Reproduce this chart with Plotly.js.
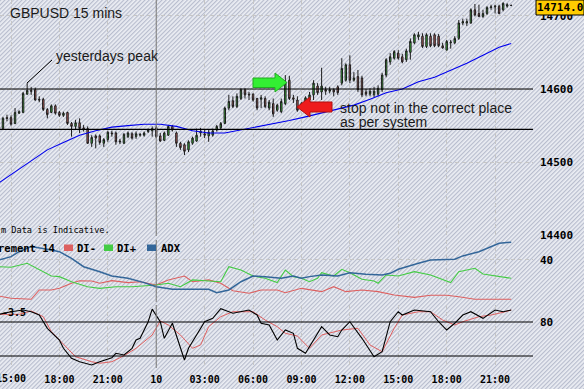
<!DOCTYPE html>
<html><head><meta charset="utf-8">
<script src="https://cdn.plot.ly/plotly-3.0.1.min.js"></script>
<style>html,body{margin:0;padding:0;background:#fff}#c{width:584px;height:389px}</style>
</head><body><div id="c"></div>
<script>
// ---------- data ----------
const firstBar = -3; // bar index of the first candle (15:00 = bar 0, 15-minute bars)
const open = [14543,14546,14561,14561,14553,14567,14568,14593,14598,14599,
 14586,14586,14572,14568,14577,14568,14564,14568,14553,14549,
 14554,14547,14546,14526,14536,14536,14526,14531,14540,14540,
 14529,14526,14535,14539,14535,14537,14537,14542,14543,14547,
 14536,14530,14537,14549,14540,14526,14524,14517,14526,14529,
 14540,14539,14536,14537,14544,14547,14553,14574,14584,14576,
 14587,14599,14593,14593,14587,14586,14587,14574,14580,14571,
 14569,14580,14612,14588,14585,14574,14580,14585,14592,14604,
 14596,14599,14597,14599,14603,14608,14612,14633,14612,14617,
 14615,14596,14593,14592,14593,14599,14619,14637,14642,14649,
 14644,14640,14650,14663,14671,14672,14658,14672,14674,14672,
 14659,14653,14663,14663,14669,14690,14690,14690,14708,14703,
 14699,14703,14711,14712,14713,14708,14713,14714];
const close = [14548,14560,14560,14552,14568,14569,14594,14598,14597,14585,
 14585,14572,14565,14577,14567,14564,14567,14553,14549,14554,
 14546,14545,14526,14534,14533,14527,14531,14541,14539,14528,
 14528,14538,14540,14533,14539,14538,14540,14544,14546,14535,
 14529,14540,14549,14544,14526,14520,14515,14528,14533,14537,
 14542,14537,14541,14543,14549,14553,14574,14583,14576,14590,
 14599,14592,14592,14585,14574,14588,14576,14582,14566,14578,
 14583,14608,14587,14586,14571,14580,14588,14592,14608,14595,
 14604,14597,14599,14596,14595,14628,14633,14612,14615,14599,
 14592,14593,14597,14597,14601,14619,14640,14644,14651,14642,
 14637,14652,14665,14674,14674,14658,14674,14659,14659,14659,
 14656,14665,14664,14669,14690,14692,14692,14708,14701,14699,
 14703,14711,14712,14713,14703,14717,14715,14714];
const high = [14552,14562,14565,14564,14574,14571,14596,14608,14603,14602,
 14590,14588,14574,14579,14579,14570,14569,14569,14555,14558,
 14560,14551,14549,14537,14538,14538,14533,14543,14543,14542,
 14532,14540,14542,14541,14542,14540,14542,14546,14549,14550,
 14540,14542,14551,14551,14542,14528,14526,14530,14535,14546,
 14547,14544,14544,14546,14551,14555,14576,14592,14590,14594,
 14601,14601,14596,14594,14588,14592,14590,14585,14587,14580,
 14587,14619,14618,14592,14590,14582,14590,14596,14612,14608,
 14629,14603,14603,14601,14605,14642,14635,14646,14623,14626,
 14618,14600,14601,14603,14605,14622,14642,14649,14653,14653,
 14648,14655,14669,14676,14678,14676,14676,14676,14676,14675,
 14663,14667,14667,14672,14694,14696,14696,14710,14716,14715,
 14708,14713,14715,14715,14715,14718,14717,14715];
const low = [14536,14544,14556,14550,14552,14566,14567,14592,14592,14584,
 14582,14570,14560,14567,14565,14562,14562,14551,14535,14544,
 14540,14542,14525,14521,14519,14524,14521,14528,14535,14524,
 14525,14525,14533,14531,14532,14535,14535,14540,14535,14533,
 14528,14529,14536,14542,14521,14517,14510,14514,14524,14528,
 14535,14533,14528,14535,14542,14545,14552,14571,14574,14574,
 14585,14587,14585,14583,14571,14574,14574,14571,14562,14569,
 14567,14578,14585,14581,14569,14570,14577,14580,14585,14592,
 14585,14592,14594,14590,14592,14605,14610,14608,14610,14596,
 14589,14590,14590,14589,14590,14596,14616,14633,14640,14640,
 14635,14637,14640,14661,14667,14656,14656,14657,14657,14657,
 14655,14653,14655,14661,14667,14687,14686,14689,14699,14698,
 14697,14701,14708,14703,14702,14706,14711,14713];

const maBars   = [-3,1,5,9,13,17,21,25,29,33,37,41,45,49,53,57,61,65,69,73,77,81,85,89,93,97,101,105,109,113,117,121,124];
const maValues = [14472,14487,14503,14517,14527,14537,14543,14548,14550,14552,14552,14549,14543,14540,14540,14544,14548,14553,14557,14562,14567,14573,14578,14586,14595,14600,14610,14616,14625,14635,14646,14657,14662];

const adxBars   = [-3,0,2,5,10,12,15,18,22,25,29,33,36,40,44,49,51,54,57,60,63,67,70,72,74,77,81,84,88,92,94,96,101,104,110,112,116,119,121,124];
const adxValues = [40,42.2,45.5,48.9,46.7,45.5,41.1,35.5,32.2,29.3,27.8,24.9,22.2,20.5,20.5,20.5,18.2,20,25.5,29.3,28.9,27.8,29.3,27.8,28.9,30,29.3,31.5,30.5,30,31.1,33.8,37.8,40,40.5,42.7,45.5,48.9,51.1,51.8];

const diPlusBars   = [-3,0,4,7,10,12,15,19,22,26,30,36,39,42,45,49,52,54,57,60,63,66,68,70,72,74,76,77,80,82,84,87,90,91,93,96,100,104,109,111,115,117,121,124];
const diPlusValues = [35.5,35.1,37.8,33.8,29.3,28.9,25.5,22.2,21.1,22.2,22.2,23.3,24.5,22.2,26.7,26,25.5,35.5,33.3,29.3,27.8,24.9,33.3,28.9,27.8,25.5,27.8,31.5,29.3,33.8,31.5,27.1,26,24.5,30,29.3,32.2,30,24.9,32.2,34.5,30.7,28.9,27.8];

const diMinusBars   = [-3,0,5,7,10,12,15,17,20,22,25,29,32,36,39,43,45,49,52,55,59,62,66,68,72,77,80,83,87,91,95,100,104,108,111,115,119,124];
const diMinusValues = [16,14.5,13.8,20,20,21.1,24.5,26.2,26,24.5,26.2,24.9,25.5,23.3,26.7,29.3,25.5,26.7,24.5,19.5,17.8,20,20,18.2,21.1,18.9,22.2,18.9,20,18.9,16.7,15.1,16.5,16.5,15.5,13.8,13.8,13.8];

const kBars   = [-3,0,3,5,7,9,12,13,15,17,20,22,25,26,28,30,31,32,34,35,37,38,40,43,44,46,48,50,52,55,59,61,62,64,66,68,70,71,73,77,79,81,82,84,87,90,92,94,96,97,100,104,106,108,110,112,114,117,120,122,124];
const kValues = [91.3,95.1,97.6,95.1,90.3,70.7,53.5,41.3,26.6,21.6,16.8,21.6,27.5,34,31.5,41.3,53.5,56,80.4,99,80.4,56,78.1,24.1,41.3,60.9,80.4,85.4,99.5,92.8,97.6,90.3,78.1,75.6,53.5,68.2,63.4,41.3,34,73.1,60.9,58.4,68.2,80.4,56,29,36.3,80.4,95.1,90.3,97.6,95.1,80.4,68.2,78.1,90.3,95.1,85.4,97.6,95.1,97.6];

const dBars   = [-3,2,5,8,10,14,16,20,22,25,28,31,35,37,39,42,45,47,49,52,55,60,63,66,68,71,74,77,80,82,86,89,92,95,97,101,104,107,110,112,116,119,122,124];
const dValues = [91.3,91.3,96.2,87.8,65.7,41.3,29,21.6,19.3,21.6,30.4,41.3,60.9,81.5,75.6,60.9,41.3,46.2,73.1,87.8,95.1,95.1,82.9,73.1,63.4,59.4,41.3,60.9,65.7,68.2,70.7,46.2,36.3,70.7,90.3,95.1,95.1,82.9,75.6,80.4,87.8,90.3,94.3,97.6];

const tickBars   = [0,12,24,36,48,60,72,84,96,108,120];
const tickLabels = ['15:00','18:00','21:00','10','03:00','06:00','09:00','12:00','15:00','18:00','21:00'];
const dayBar = 36;
const priceTicks = [14400,14500,14600,14700];
const levels = [14600, 14545];
const stochLevels = [80, 30];
const lastPrice = '14714.0';

// ---------- drawing ----------
const bars = open.map((_, k) => firstBar + k);
const W = 533, H = 368;               // plot area in pixels
const XR = [-2.73, 129.4];
const px = x => x / W, py = y => 1 - y / H;
const pathOf = pts => 'M' + pts.map(p => px(p[0]).toFixed(5) + ',' + py(p[1]).toFixed(5)).join(' L') + ' Z';

const mono = 'DejaVu Sans Mono';
const traces = [
  {type:'candlestick', x:bars, open, high, low, close, xaxis:'x', yaxis:'y', hoverinfo:'skip',
   increasing:{line:{color:'#1c1c1c', width:1}, fillcolor:'#3fcc3f'},
   decreasing:{line:{color:'#1c1c1c', width:1}, fillcolor:'#d06868'}, whiskerwidth:0},
  {type:'scatter', mode:'lines', x:maBars, y:maValues, yaxis:'y', line:{color:'#0000ee', width:1.1}, hoverinfo:'skip'},
  {type:'scatter', mode:'lines', x:diMinusBars, y:diMinusValues, yaxis:'y2', line:{color:'#dd6060', width:1.1}, hoverinfo:'skip'},
  {type:'scatter', mode:'lines', x:diPlusBars, y:diPlusValues, yaxis:'y2', line:{color:'#44cc44', width:1.1}, hoverinfo:'skip'},
  {type:'scatter', mode:'lines', x:adxBars, y:adxValues, yaxis:'y2', line:{color:'#336699', width:1.5}, hoverinfo:'skip'},
  {type:'scatter', mode:'lines', x:dBars, y:dValues, yaxis:'y3', line:{color:'#e06060', width:1}, hoverinfo:'skip'},
  {type:'scatter', mode:'lines', x:kBars, y:kValues, yaxis:'y3', line:{color:'#000000', width:1.1}, hoverinfo:'skip'}
];

const grid = {showgrid:true, gridcolor:'#c6c6c6', griddash:'4px,3px', gridwidth:1};
const yCommon = {side:'right', anchor:'x', zeroline:false, showline:false, ticks:'', fixedrange:true, tickformat:'d',
  tickfont:{family:mono, size:11, color:'#000', weight:'bold'}, ticklabelstandoff:6};

const shapes = [];
levels.forEach(v => shapes.push({type:'line', xref:'x domain', x0:0, x1:1, yref:'y', y0:v, y1:v, line:{color:'#000', width:1.2}}));
stochLevels.forEach(v => shapes.push({type:'line', xref:'x domain', x0:0, x1:1, yref:'y3', y0:v, y1:v, line:{color:'#000', width:1.2}}));
['y','y2','y3'].forEach(a => shapes.push({type:'line', xref:'x', x0:dayBar, x1:dayBar, yref:a + ' domain', y0:0, y1:1, line:{color:'#7a7a7a', width:1}}));
// annotation decorations
shapes.push({type:'line', xref:'paper', yref:'paper', x0:px(27), y0:py(83), x1:px(52), y1:py(60), line:{color:'#000', width:1}});
shapes.push({type:'path', xref:'paper', yref:'paper', path:pathOf([[253,78],[275,78],[275,73],[287,82.5],[275,92],[275,87.5],[253,87.5]]),
  fillcolor:'#33ee33', line:{color:'#22aa22', width:1}});
shapes.push({type:'path', xref:'paper', yref:'paper', path:pathOf([[297,107],[310,97],[310,102],[332,102],[332,112],[310,112],[310,117]]),
  fillcolor:'#ee1c1c', line:{color:'#b01010', width:1}});
// ADX legend swatches
[[64,'#dd6060'],[104,'#44cc44'],[147,'#336699']].forEach(s => shapes.push({type:'rect', xref:'paper', yref:'paper',
  x0:px(s[0]), x1:px(s[0]+9), y0:py(251), y1:py(244.5), fillcolor:s[1], line:{width:0}}));
// last price box
shapes.push({type:'rect', xref:'paper', yref:'paper', x0:px(536), x1:px(584), y0:py(15), y1:py(0), fillcolor:'#ffcc00', line:{color:'#000', width:1}, layer:'above'});

const txt = (t, x, y, o) => Object.assign({text:t, xref:'paper', yref:'paper', x:px(x), y:py(y), xanchor:'left', yanchor:'middle', showarrow:false,
  font:{family:'Liberation Sans', size:14, color:'#1a1a1a'}}, o || {});
const annotations = [
  txt('GBPUSD 15 mins', 8, 13),
  txt('yesterdays peak', 54, 56),
  txt('stop not in the correct place', 338, 107.5),
  txt('as per system', 338, 122),
  txt('m Data is Indicative.', -1, 230, {font:{family:mono, size:8.6, color:'#000'}}),
  txt('rement 14', 57, 248, {xanchor:'right', font:{family:mono, size:10.5, color:'#000', weight:'bold'}}),
  txt('DI-', 75, 248, {font:{family:mono, size:10.5, color:'#000', weight:'bold'}}),
  txt('DI+', 115, 248, {font:{family:mono, size:10.5, color:'#000', weight:'bold'}}),
  txt('ADX', 159, 248, {font:{family:mono, size:10.5, color:'#000', weight:'bold'}}),
  txt('-3.5', 0, 312, {font:{family:mono, size:10, color:'#000', weight:'bold'}}),
  txt(lastPrice, 560, 7.5, {xanchor:'center', font:{family:mono, size:11, color:'#000', weight:'bold'}}),
  // first time label sits half outside the left edge, as in the reference
  {text:tickLabels[0], xref:'x', yref:'paper', x:tickBars[0], y:py(378), xanchor:'center', yanchor:'middle', showarrow:false,
   font:{family:mono, size:10, color:'#000', weight:'bold'}}
];

const hatchSvg = "<svg xmlns='http://www.w3.org/2000/svg' width='584' height='389'><defs>" +
  "<pattern id='p' width='3' height='3' patternUnits='userSpaceOnUse' patternTransform='rotate(45)'>" +
  "<rect width='3' height='3' fill='#eceef4'/><rect width='1.2' height='3' fill='#b7bccd'/></pattern></defs>" +
  "<rect width='584' height='389' fill='url(#p)'/></svg>";

const layout = {
  width:584, height:389, margin:{l:0, r:51, t:0, b:21, pad:0},
  paper_bgcolor:'#d9dbe5', plot_bgcolor:'#ffffff', showlegend:false, boxgap:0.5,
  xaxis: Object.assign({range:XR, tickmode:'array', tickvals:tickBars, ticktext:tickLabels, anchor:'y3',
    ticks:'', zeroline:false, showline:false, fixedrange:true, rangeslider:{visible:false}, ticklabelstandoff:4,
    tickfont:{family:mono, size:10, color:'#000', weight:'bold'}}, grid),
  yaxis: Object.assign({domain:[1-236/H, 1], range:[14399.5,14721.4], tickmode:'array', tickvals:priceTicks}, yCommon, grid),
  yaxis2: Object.assign({domain:[1-302/H, 1-240/H], range:[12,53.3], tickmode:'array', tickvals:[40]}, yCommon, grid),
  yaxis3: Object.assign({domain:[0, 1-305/H], range:[12.35,105], tickmode:'array', tickvals:[80], showgrid:false}, yCommon),
  shapes, annotations,
  images:[{source:'data:image/svg+xml;charset=utf-8,' + encodeURIComponent(hatchSvg), xref:'paper', yref:'paper',
    x:0, y:1, sizex:584/W, sizey:389/H, xanchor:'left', yanchor:'top', sizing:'stretch', layer:'below'}]
};

Plotly.newPlot('c', traces, layout, {displayModeBar:false, staticPlot:true});
</script></body></html>
